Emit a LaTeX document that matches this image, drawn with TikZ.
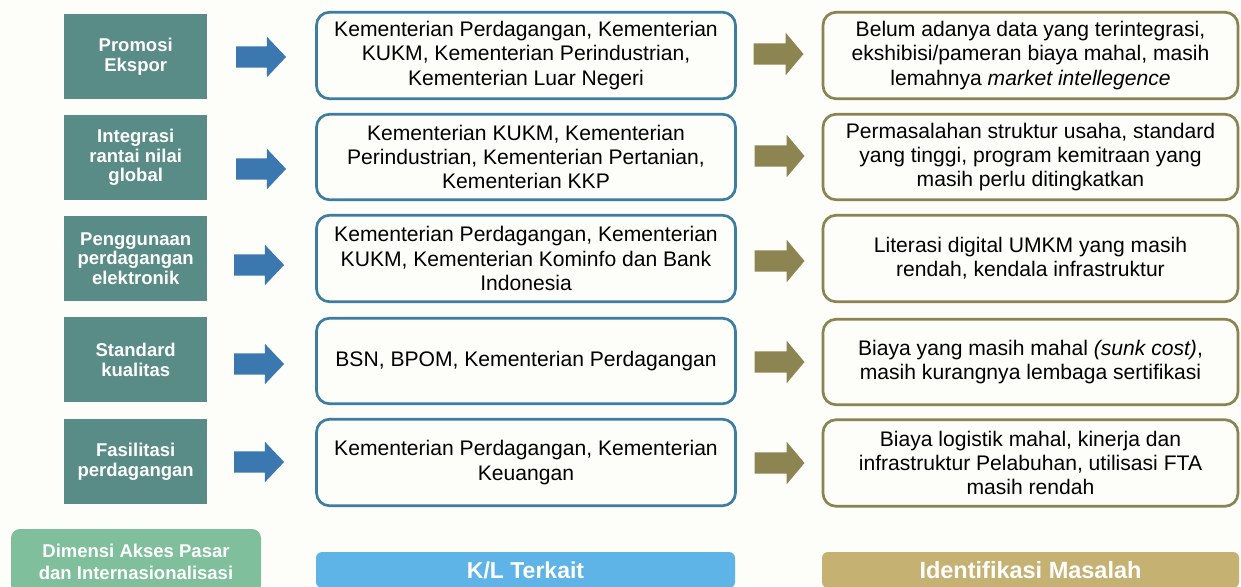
\documentclass[tikz,border=0pt]{standalone}
\usepackage{fontspec}
\setmainfont{Liberation Sans}
\usetikzlibrary{shapes.arrows}
\definecolor{bgc}{HTML}{FDFDFA}
\definecolor{tealc}{HTML}{598B87}
\definecolor{greenc}{HTML}{80BF9C}
\definecolor{bluelab}{HTML}{5EB4E6}
\definecolor{olivelab}{HTML}{C5B273}
\definecolor{bluebord}{HTML}{3C7DA0}
\definecolor{olivebord}{HTML}{8A8452}
\definecolor{bluearr}{HTML}{3A78AF}
\definecolor{olivearr}{HTML}{8C8551}
\tikzset{
  dimbox/.style={anchor=north west, fill=tealc, text=white, inner sep=0pt,
    minimum width=143pt, minimum height=85pt, align=center,
    font=\fontsize{18.5}{19.5}\selectfont\bfseries},
  klbox/.style={draw=bluebord, line width=2.7pt, rounded corners=13pt, fill=bgc,
    inner sep=0pt, minimum width=419pt, align=center, text=black,
    font=\fontsize{21.1}{24.3}\selectfont},
  masbox/.style={draw=olivebord, line width=2.7pt, rounded corners=13pt, fill=bgc,
    inner sep=0pt, minimum width=415pt, align=center, text=black,
    font=\fontsize{21.1}{24.3}\selectfont},
  bluearrow/.style={single arrow, fill=bluearr, inner sep=0pt, minimum height=50pt,
    single arrow head extend=9.5pt, single arrow tip angle=93},
  olivearrow/.style={single arrow, fill=olivearr, inner sep=0pt, minimum height=50pt,
    single arrow head extend=10.5pt, single arrow tip angle=100},
  labtext/.style={text=white, inner sep=0pt, align=center}
}
\newcommand{\shaft}{\rule{0pt}{21pt}}
\begin{document}
\begin{tikzpicture}[x=1pt,y=-1pt]
\useasboundingbox (0,0) rectangle (1241,586);
\fill[bgc] (0,0) rectangle (1241,586);

% left dimension boxes
\node[dimbox] (d1) at (64,14) {Promosi\\Ekspor};
\node[dimbox] (d2) at (64,115) {Integrasi\\rantai nilai\\global};
\node[dimbox] (d3) at (64,216) {Penggunaan\\perdagangan\\elektronik};
\node[dimbox] (d4) at (64,317) {Standard\\kualitas};
\node[dimbox] (d5) at (64,419) {Fasilitasi\\perdagangan};

% blue arrows
\node[bluearrow] (a1) at (256,57) {\shaft};
\node[bluearrow] (a2) at (256,169) {\shaft};
\node[bluearrow] (a3) at (254,265) {\shaft};
\node[bluearrow] (a4) at (254,364) {\shaft};
\node[bluearrow] (a5) at (254,462) {\shaft};

% K/L boxes
\node[klbox, minimum height=86.5pt] (k1) at (526,55.5) {Kementerian Perdagangan, Kementerian\\KUKM, Kementerian Perindustrian,\\Kementerian Luar Negeri};
\node[klbox, minimum height=85.5pt] (k2) at (526,157) {Kementerian KUKM, Kementerian\\Perindustrian, Kementerian Pertanian,\\Kementerian KKP};
\node[klbox, minimum height=86.5pt] (k3) at (526,258.5) {Kementerian Perdagangan, Kementerian\\KUKM, Kementerian Kominfo dan Bank\\Indonesia};
\node[klbox, minimum height=85.5pt] (k4) at (526,361) {BSN, BPOM, Kementerian Perdagangan};
\node[klbox, minimum height=86.5pt] (k5) at (526,462.5) {Kementerian Perdagangan, Kementerian\\Keuangan};

% olive arrows
\node[olivearrow] (b1) at (774,54) {\shaft};
\node[olivearrow] (b2) at (775,156) {\shaft};
\node[olivearrow] (b3) at (775,261) {\shaft};
\node[olivearrow] (b4) at (775,362) {\shaft};
\node[olivearrow] (b5) at (775,463) {\shaft};

% masalah boxes
\node[masbox, minimum height=86.5pt] (m1) at (1030.5,55.5) {Belum adanya data yang terintegrasi,\\ekshibisi/pameran biaya mahal, masih\\lemahnya \textit{market intellegence}};
\node[masbox, minimum height=85.5pt] (m2) at (1030.5,157) {Permasalahan struktur usaha, standard\\yang tinggi, program kemitraan yang\\masih perlu ditingkatkan};
\node[masbox, minimum height=86.5pt] (m3) at (1030.5,258.5) {Literasi digital UMKM yang masih\\rendah, kendala infrastruktur};
\node[masbox, minimum height=85.5pt] (m4) at (1030.5,362) {Biaya yang masih mahal \textit{(sunk cost)},\\masih kurangnya lembaga sertifikasi};
\node[masbox, minimum height=86.5pt] (m5) at (1030.5,463) {Biaya logistik mahal, kinerja dan\\infrastruktur Pelabuhan, utilisasi FTA\\masih rendah};

% bottom labels
\begin{scope}
\clip (0,0) rectangle (1241,586);
\node[fill=greenc, rounded corners=9pt, minimum width=250pt, minimum height=65pt,
  labtext, font=\fontsize{18.5}{22}\selectfont\bfseries] (l1) at (136,561.5)
  {Dimensi Akses Pasar\\dan Internasionalisasi};
\node[fill=bluelab, rounded corners=6pt, minimum width=419pt, minimum height=36pt,
  labtext, font=\fontsize{23}{26}\selectfont\bfseries] (l2) at (525.5,570)
  {K/L Terkait};
\node[fill=olivelab, rounded corners=6pt, minimum width=417pt, minimum height=36pt,
  labtext, font=\fontsize{23.5}{26}\selectfont\bfseries] (l3) at (1030.5,570)
  {Identifikasi Masalah};
\end{scope}
\end{tikzpicture}
\end{document}
